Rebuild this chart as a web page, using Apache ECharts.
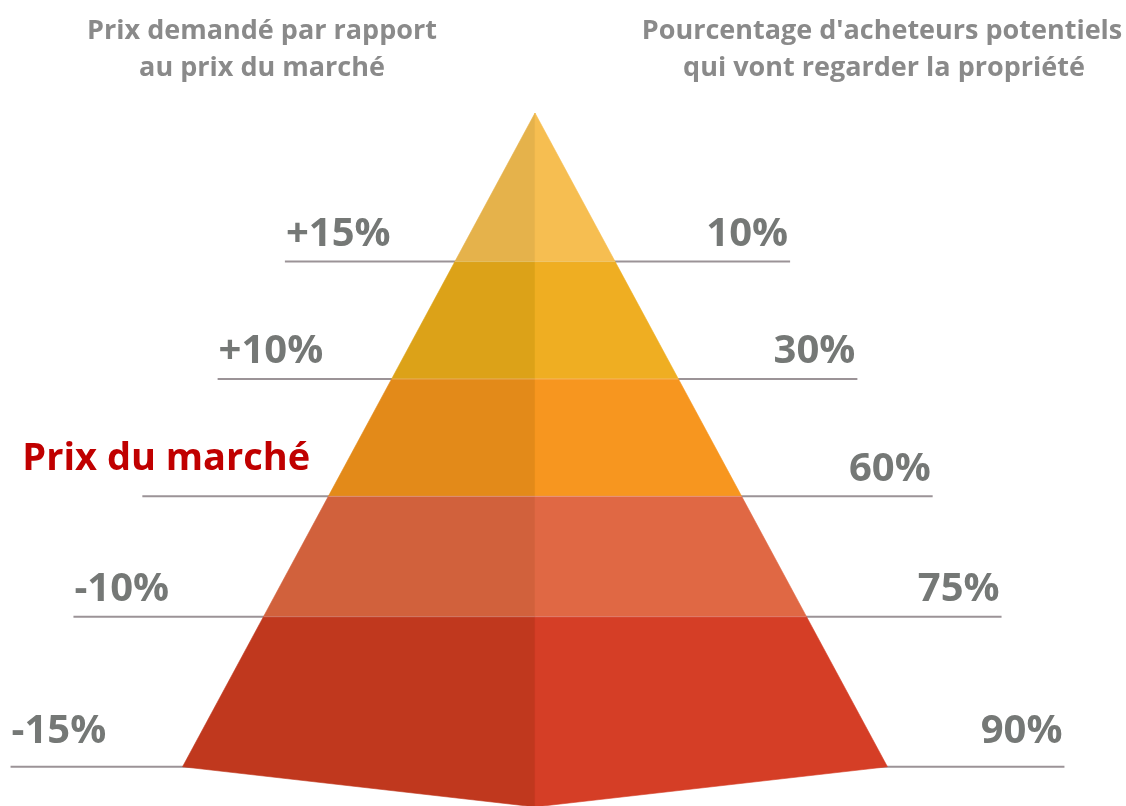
<!DOCTYPE html>
<html>
<head>
<meta charset="utf-8">
<script src="https://cdn.jsdelivr.net/npm/echarts@6/dist/echarts.min.js"></script>
<style>
  html, body { margin: 0; padding: 0; background: #fff; }
  #pyramide { width: 1126px; height: 806px; }
</style>
</head>
<body>
<div id="pyramide"></div>
<script>
// niveaux de la pyramide, du sommet vers la base
var tiers = ['+15%', '+10%', 'Prix du marché', '-10%', '-15%'];
var buyers = ['10%', '30%', '60%', '75%', '90%'];
// profondeur du bas de chaque niveau (sommet = 0)
var tierDepth = [1.0, 1.79, 2.58, 3.39, 4.4];

var leftColors = ['#e5b24b', '#dca218', '#e38a19', '#d1613c', '#c0381e'];
var rightColors = ['#f6be51', '#efae22', '#f7961f', '#e06844', '#d53e26'];

var slope = 0.539;   // demi-largeur / profondeur
var dip = 0.27;      // pointe sous la base
var reach = [172, 176, 188, 192, 174];  // débord des traits hors pyramide (px)
var numFont = 'bold 40px "Open Sans"';
var grey = '#757876';

function renderTier(params, api) {
  var i = api.value(0);
  var d0 = i === 0 ? 0 : tierDepth[i - 1];
  var d1 = api.value(1);
  var last = i === tiers.length - 1;
  var tl = api.coord([-d0 * slope, d0]);
  var tc = api.coord([0, d0]);
  var tr = api.coord([d0 * slope, d0]);
  var bl = api.coord([-d1 * slope, d1]);
  var bc = api.coord([0, last ? d1 + dip : d1]);
  var br = api.coord([d1 * slope, d1]);
  var children = [
    {type: 'polygon', shape: {points: [tl, tc, bc, bl]},
      style: {fill: leftColors[i], stroke: leftColors[i], lineWidth: 0.6}},
    {type: 'polygon', shape: {points: [tc, tr, br, bc]},
      style: {fill: rightColors[i], stroke: rightColors[i], lineWidth: 0.6}}
  ];
  if (i > 0) {
    children.push({type: 'line', shape: {x1: tl[0], y1: tl[1], x2: tr[0], y2: tr[1]},
      style: {stroke: 'rgba(255,255,255,0.3)', lineWidth: 1}});
  }
  return {type: 'group', children: children};
}

function renderGuide(params, api) {
  var i = api.value(0);
  var d1 = api.value(1);
  var l = api.coord([-d1 * slope, d1]);
  var r = api.coord([d1 * slope, d1]);
  var x1 = l[0] - reach[i] + 2, x2 = r[0] + reach[i] + 3, y = l[1];
  var gap = i === tiers.length - 1 ? 35 : 27;
  var children = [
    {type: 'line', shape: {x1: x1, y1: y, x2: x2, y2: y},
      style: {stroke: '#9b9397', lineWidth: 2}},
    {type: 'text', style: {text: buyers[i], x: x2 - 2, y: y - gap, align: 'right',
      verticalAlign: 'middle', font: numFont, fill: grey}}
  ];
  if (tiers[i] === 'Prix du marché') {
    var top = api.coord([0, 0])[1];
    var dl = (y - 37 - top) / (y - top) * d1;
    var edge = api.coord([-dl * slope, dl]);
    children.push({type: 'text', style: {text: tiers[i], x: edge[0] - 38, y: y - 37,
      align: 'right', verticalAlign: 'middle', font: 'bold 38px "Open Sans"', fill: '#c00000'}});
  } else {
    children.push({type: 'text', style: {text: tiers[i], x: x1 + 1, y: y - gap, align: 'left',
      verticalAlign: 'middle', font: numFont, fill: grey}});
  }
  return {type: 'group', children: children};
}

var data = tiers.map(function (t, i) { return [i, tierDepth[i]]; });
var titleFont = 'bold 27px "Open Sans"';

var option = {
  animation: false,
  grid: {left: 0, width: 1070, top: 113, bottom: 0},
  xAxis: {type: 'value', min: -3.6, max: 3.6, show: false},
  yAxis: {type: 'value', min: 0, max: 4.664, inverse: true, show: false},
  graphic: [
    {type: 'text', x: 262, y: 31, style: {text: 'Prix demandé par rapport', align: 'center', verticalAlign: 'middle', font: titleFont, fill: '#8a8a8a'}},
    {type: 'text', x: 262, y: 68, style: {text: 'au prix du marché', align: 'center', verticalAlign: 'middle', font: titleFont, fill: '#8a8a8a'}},
    {type: 'text', x: 882, y: 31, style: {text: "Pourcentage d'acheteurs potentiels", align: 'center', verticalAlign: 'middle', font: titleFont, fill: '#8a8a8a'}},
    {type: 'text', x: 884, y: 68, style: {text: 'qui vont regarder la propriété', align: 'center', verticalAlign: 'middle', font: titleFont, fill: '#8a8a8a'}}
  ],
  series: [
    {type: 'custom', name: 'repères', z: 1, renderItem: renderGuide, data: data, silent: true},
    {type: 'custom', name: 'pyramide', z: 2, renderItem: renderTier, data: data, silent: true}
  ]
};

var myChart = echarts.init(document.getElementById('pyramide'));
myChart.setOption(option);
</script>
</body>
</html>
